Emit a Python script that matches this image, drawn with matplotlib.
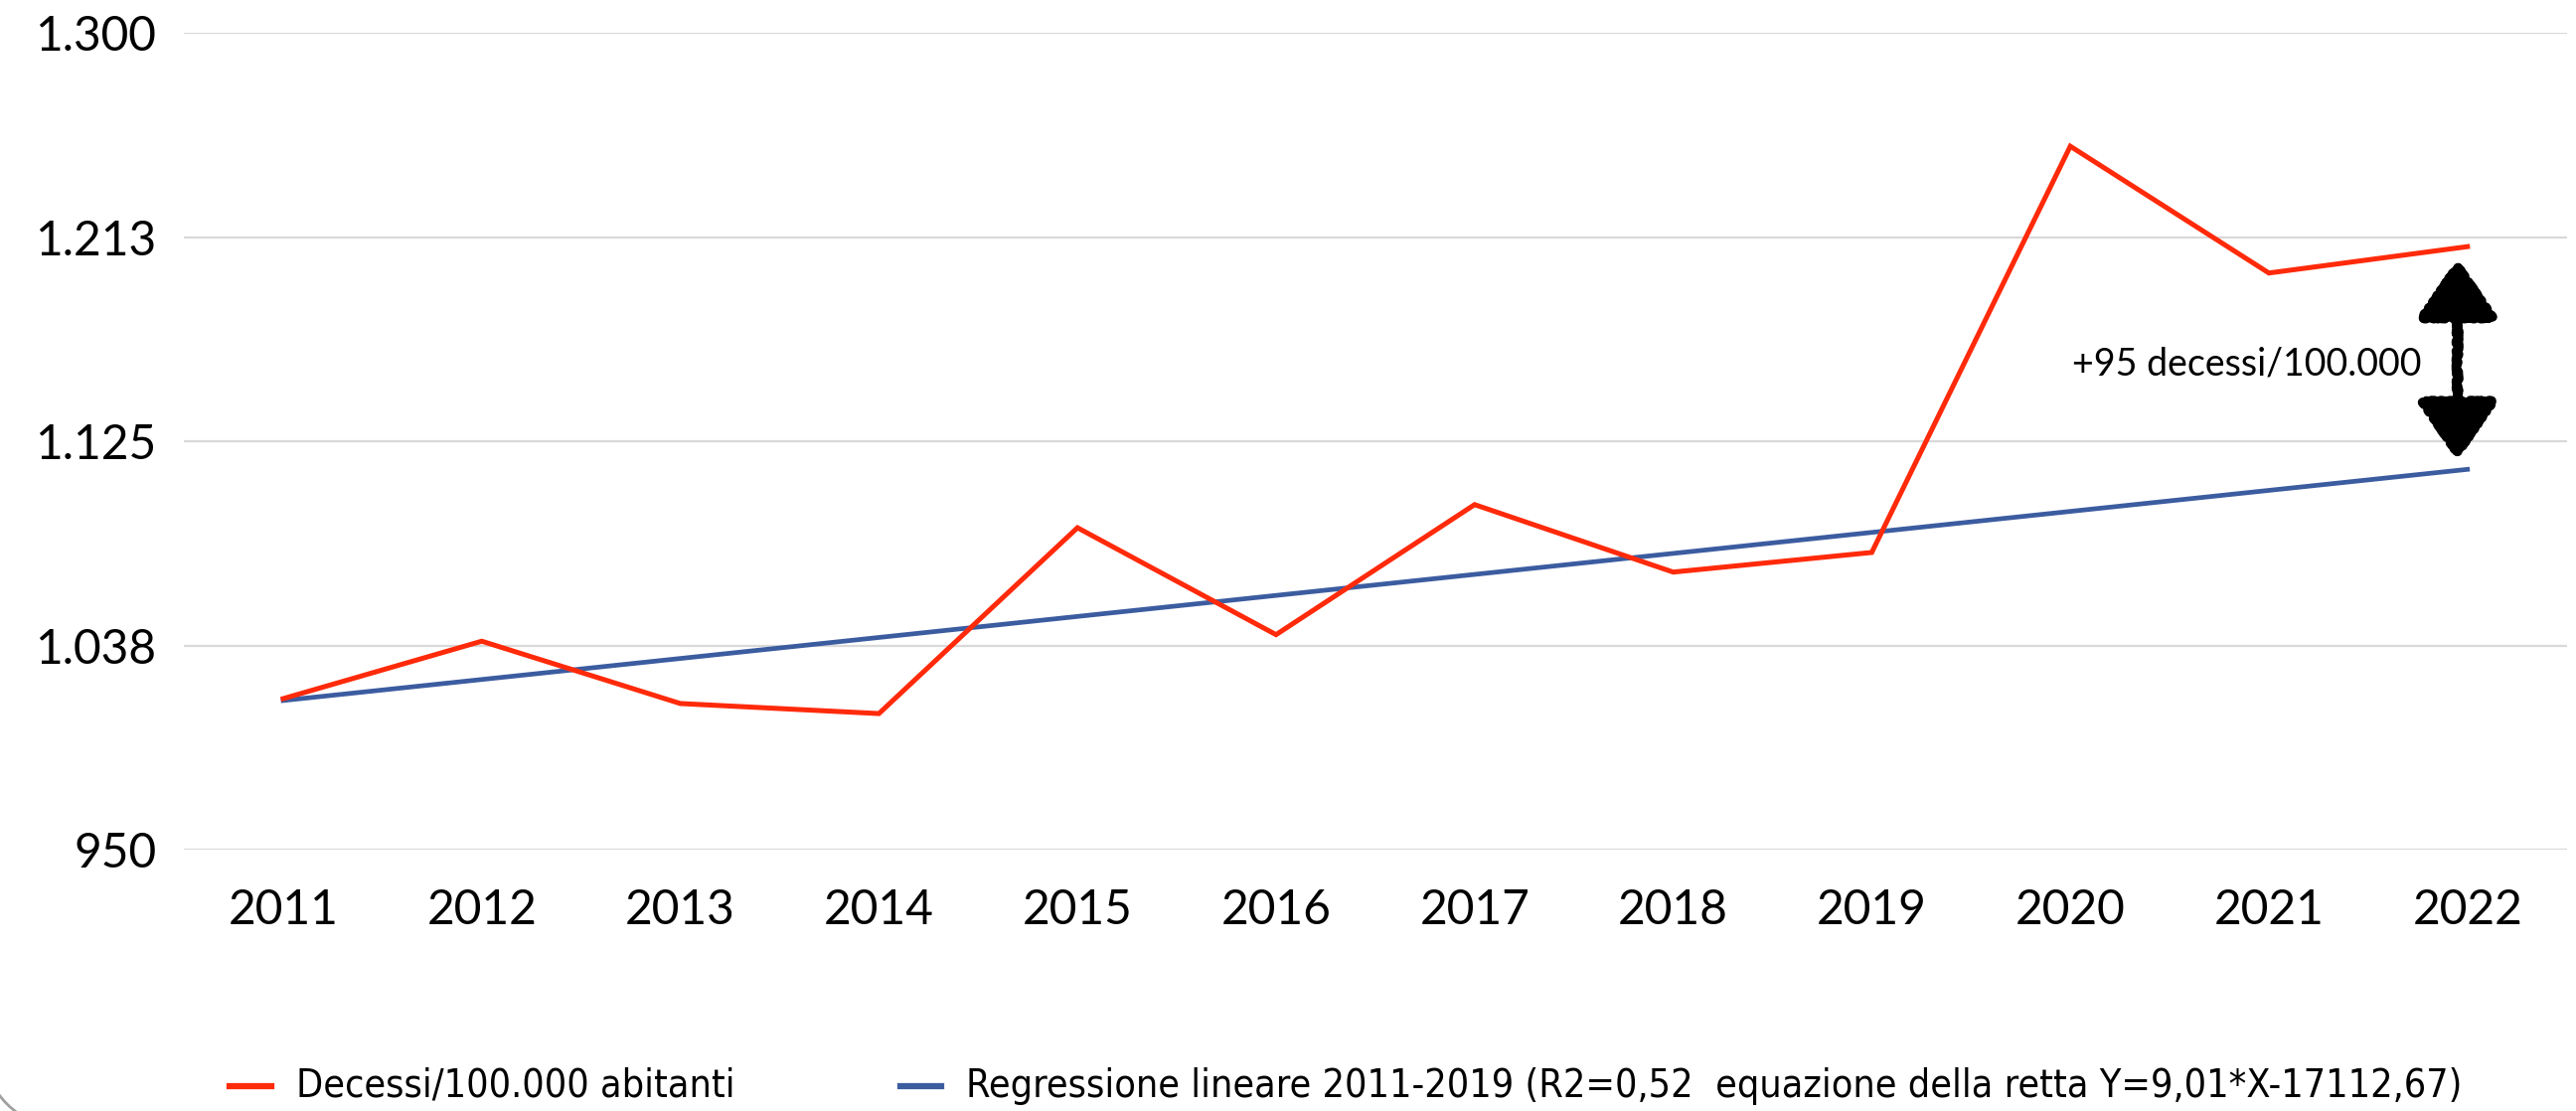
import matplotlib.pyplot as plt
from matplotlib.ticker import FixedLocator, FixedFormatter
from matplotlib.patches import Arc
from matplotlib.transforms import IdentityTransform

plt.rcParams['font.family'] = ['Lato', 'DejaVu Sans']

## Data

years = ['2011', '2012', '2013', '2014', '2015', '2016',
         '2017', '2018', '2019', '2020', '2021', '2022']
deaths = [1014.8, 1039.4, 1012.7, 1008.4, 1088.0, 1042.2,
          1097.9, 1069.0, 1077.4, 1251.4, 1197.1, 1208.4]
regression = [1014.0, 1023.0, 1032.0, 1041.0, 1050.0, 1059.0,
              1068.0, 1077.0, 1086.0, 1095.0, 1104.0, 1113.0]
y_ticks = [950, 1037.5, 1125, 1212.5, 1300]
y_labels = ['950', '1.038', '1.125', '1.213', '1.300']

label_deaths = 'Decessi/100.000 abitanti'
label_reg = 'Regressione lineare 2011-2019 (R2=0,52  equazione della retta Y=9,01*X-17112,67)'
note = '+95 decessi/100.000'
arrow_top, arrow_bottom = 1203, 1117

red = '#FF2A0A'
blue = '#3C5CA0'

fig = plt.figure(figsize=(25.92, 11.18), dpi=100)
ax = fig.add_axes([0.0714, 0.235, 0.925, 0.7355])

x = list(range(len(years)))
ax.plot(x, deaths, color=red, lw=3.6, solid_joinstyle='miter', zorder=3)
ax.plot(x, regression, color=blue, lw=3.4, zorder=2)

ax.set_xlim(-0.5, len(years) - 0.5)
ax.set_ylim(950, 1300)
ax.yaxis.set_major_locator(FixedLocator(y_ticks))
ax.yaxis.set_major_formatter(FixedFormatter(y_labels))
ax.set_xticks(x)
ax.set_xticklabels(years)
ax.tick_params(axis='y', length=0, pad=20, labelsize=34.5)
ax.tick_params(axis='x', length=0, pad=28, labelsize=34.5)
ax.grid(axis='y', color='#D9D9D9', lw=1.6)
ax.set_axisbelow(True)
for s in ax.spines.values():
    s.set_visible(False)

## Hand-drawn looking double arrow and note
arr = ax.annotate('', xy=(10.95, arrow_top), xytext=(10.95, arrow_bottom),
                  arrowprops=dict(arrowstyle='<|-|>,head_length=1.2,head_width=0.82',
                                  color='black', lw=7, mutation_scale=30,
                                  shrinkA=0, shrinkB=0))
arr.arrow_patch.set_sketch_params(scale=1.2, length=8, randomness=16)
ax.text(10.77, 1158, note, ha='right', va='center', fontsize=27)

## Legend below the plot
leg_font = dict(family='DejaVu Sans', stretch='condensed', size=28.3)
fig.lines.append(plt.Line2D([0.0893, 0.1052], [0.0225, 0.0225], transform=fig.transFigure,
                            color=red, lw=4.5))
fig.text(0.1148, 0.0225, label_deaths, va='center', fontdict=leg_font)
fig.lines.append(plt.Line2D([0.3495, 0.3654], [0.0225, 0.0225], transform=fig.transFigure,
                            color=blue, lw=4.5))
fig.text(0.375, 0.0225, label_reg, va='center', fontdict=leg_font)

## Rounded chart frame, only the bottom-left corner shows
corner = Arc((63.6, 63.6), 160, 160, theta1=180, theta2=270,
             transform=IdentityTransform(), color='#A0A0A0', lw=2)
fig.patches.append(corner)

fig.savefig('out.png', dpi=100)
